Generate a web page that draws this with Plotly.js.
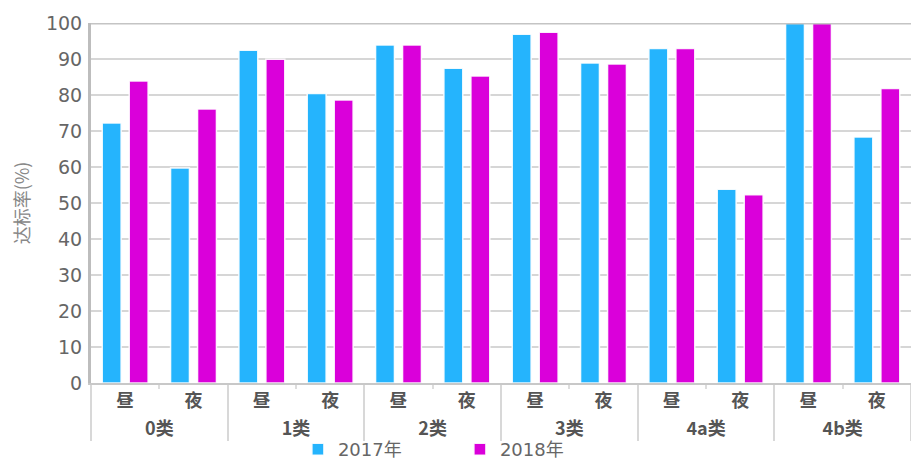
<!DOCTYPE html>
<html>
<head>
<meta charset="utf-8">
<script src="https://cdn.plot.ly/plotly-3.0.1.min.js"></script>
<style>
  html, body { margin: 0; padding: 0; background: #fff; }
  #chart { width: 911px; height: 460px; }
</style>
</head>
<body>
<div id="chart"></div>
<script>
const groups = ['0类', '1类', '2类', '3类', '4a类', '4b类'];
const periods = ['昼', '夜'];
const series2017 = [72.2, 59.7, 92.4, 80.4, 93.9, 87.4, 96.9, 88.9, 92.9, 53.8, 100, 68.3];
const series2018 = [83.9, 76.1, 89.9, 78.6, 93.9, 85.3, 97.4, 88.6, 92.9, 52.3, 100, 81.8];
const seriesNames = ['2017年', '2018年'];

const xOuter = [];
const xInner = [];
groups.forEach(g => periods.forEach(p => { xOuter.push(g); xInner.push(p); }));

const colors = ['#25B4FD', '#DA00DA'];
const traces = [series2017, series2018].map((vals, i) => ({
  type: 'bar',
  name: seriesNames[i],
  x: [xOuter, xInner],
  y: vals,
  marker: { color: colors[i], line: { color: 'rgba(255,255,255,0.9)', width: 1.5 } },
  hoverinfo: 'y'
}));

const layout = {
  width: 911, height: 460,
  margin: { l: 91, r: 0, t: 23, b: 77, autoexpand: false },
  paper_bgcolor: '#fff', plot_bgcolor: '#fff',
  barmode: 'group',
  bargap: 0.21,
  bargroupgap: 0.3,
  font: { family: 'DejaVu Sans, Noto Sans CJK SC', color: '#666' },
  xaxis: {
    type: 'multicategory',
    automargin: false,
    showgrid: false,
    showline: true, linecolor: '#c8c8c8', linewidth: 2,
    showdividers: true, dividercolor: '#d8d8d8', dividerwidth: 2,
    tickfont: { family: 'Noto Sans CJK SC', size: 18, color: '#555', weight: 'bold' },
    ticks: 'outside', tickson: 'boundaries', ticklen: 4, tickwidth: 2, tickcolor: '#dddddd',
    ticklabelstandoff: 0,
    zeroline: false
  },
  yaxis: {
    automargin: false,
    range: [0, 100],
    dtick: 10,
    showgrid: true, gridcolor: '#d6d6d6', gridwidth: 2,
    showline: true, linecolor: '#bdbdbd', linewidth: 3,
    zeroline: false,
    ticks: '',
    tickfont: { family: 'DejaVu Sans', size: 19, color: '#666' },
    ticklabelstandoff: 2,
    title: { text: '达标率(%)', font: { family: 'Noto Sans CJK SC', size: 18, color: '#888' }, standoff: 12 }
  },
  showlegend: true,
  legend: {
    orientation: 'h',
    xref: 'container', yref: 'container',
    x: 0.327, xanchor: 'left',
    y: 0.0228, yanchor: 'middle',
    bgcolor: 'rgba(0,0,0,0)',
    font: { family: 'DejaVu Sans, Noto Sans CJK SC', size: 18, color: '#666' },
    entrywidth: 117,
    traceorder: 'normal'
  },
  shapes: [{
    type: 'line', xref: 'paper', yref: 'y', x0: 0, x1: 1, y0: 100, y1: 100,
    line: { color: '#c4c4c4', width: 3 }
  }]
};

Plotly.newPlot('chart', traces, layout, { displayModeBar: false, staticPlot: true });
</script>
</body>
</html>
